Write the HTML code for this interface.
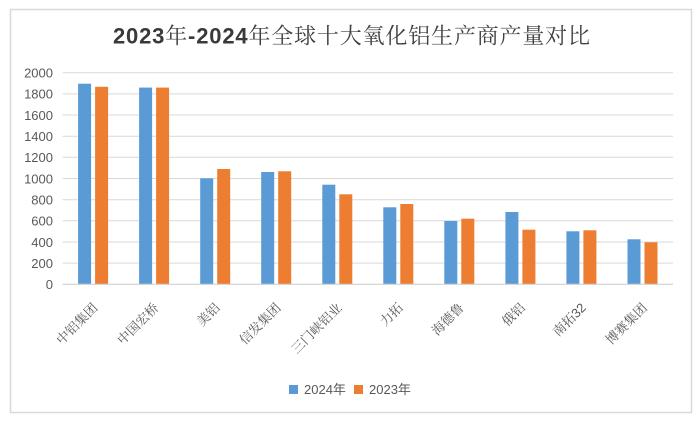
<!DOCTYPE html>
<html><head><meta charset="utf-8"><style>
html,body{margin:0;padding:0;background:#fff;}
svg{display:block;}
.t-num{font-family:"Liberation Sans",sans-serif;font-weight:bold;fill:#3a3a3a;}
.t-cjk{font-family:"Noto Serif CJK SC","Noto Serif CJK TC",serif;font-weight:normal;fill:#404040;}
.lab{font-family:"Liberation Sans","Noto Serif CJK SC",serif;font-size:13px;fill:#595959;}
.tick{font-family:"Liberation Sans",sans-serif;font-size:13px;fill:#595959;}
.leg{font-family:"Liberation Sans","Noto Sans CJK SC",sans-serif;font-size:13px;fill:#595959;}
</style></head><body>
<svg width="700" height="424" viewBox="0 0 700 424" xmlns="http://www.w3.org/2000/svg">
<rect x="0" y="0" width="700" height="424" fill="#fff"/>
<rect x="10.5" y="9.5" width="681" height="403" fill="#fff" stroke="#d9d9d9" stroke-width="1.5"/>
<text x="113" y="43.5" textLength="477" lengthAdjust="spacing" style="font-size:22px"><tspan class="t-num">2023</tspan><tspan class="t-cjk">年</tspan><tspan class="t-num">-2024</tspan><tspan class="t-cjk">年全球十大氧化铝生产商产量对比</tspan></text>
<g stroke="#d9d9d9" stroke-width="1">
<line x1="62.6" x2="673" y1="72.7" y2="72.7"/>
<line x1="62.6" x2="673" y1="93.9" y2="93.9"/>
<line x1="62.6" x2="673" y1="115.0" y2="115.0"/>
<line x1="62.6" x2="673" y1="136.2" y2="136.2"/>
<line x1="62.6" x2="673" y1="157.3" y2="157.3"/>
<line x1="62.6" x2="673" y1="178.5" y2="178.5"/>
<line x1="62.6" x2="673" y1="199.7" y2="199.7"/>
<line x1="62.6" x2="673" y1="220.8" y2="220.8"/>
<line x1="62.6" x2="673" y1="242.0" y2="242.0"/>
<line x1="62.6" x2="673" y1="263.1" y2="263.1"/>
</g>
<g class="tick" text-anchor="end">
<text class="tick" x="53" y="77.5">2000</text>
<text class="tick" x="53" y="98.7">1800</text>
<text class="tick" x="53" y="119.8">1600</text>
<text class="tick" x="53" y="141">1400</text>
<text class="tick" x="53" y="162.1">1200</text>
<text class="tick" x="53" y="183.3">1000</text>
<text class="tick" x="53" y="204.5">800</text>
<text class="tick" x="53" y="225.6">600</text>
<text class="tick" x="53" y="246.8">400</text>
<text class="tick" x="53" y="267.9">200</text>
<text class="tick" x="53" y="289.1">0</text>
</g>
<g fill="#5B9BD5">
<rect x="78.1" y="83.7" width="13" height="200.6"/>
<rect x="139.1" y="87.6" width="13" height="196.7"/>
<rect x="200.2" y="178.3" width="13" height="106"/>
<rect x="261.2" y="172.0" width="13" height="112.3"/>
<rect x="322.3" y="184.7" width="13" height="99.6"/>
<rect x="383.3" y="207.3" width="13" height="77"/>
<rect x="444.3" y="221.0" width="13" height="63.3"/>
<rect x="505.4" y="212.0" width="13" height="72.3"/>
<rect x="566.4" y="231.3" width="13" height="53"/>
<rect x="627.5" y="239.3" width="13" height="45"/>
</g>
<g fill="#ED7D31">
<rect x="95.1" y="86.8" width="13" height="197.5"/>
<rect x="156.1" y="87.6" width="13" height="196.7"/>
<rect x="217.2" y="169.0" width="13" height="115.3"/>
<rect x="278.2" y="171.3" width="13" height="113"/>
<rect x="339.3" y="194.3" width="13" height="90"/>
<rect x="400.3" y="204.0" width="13" height="80.3"/>
<rect x="461.3" y="218.7" width="13" height="65.6"/>
<rect x="522.4" y="229.7" width="13" height="54.6"/>
<rect x="583.4" y="230.3" width="13" height="54"/>
<rect x="644.5" y="242.3" width="13" height="42"/>
</g>
<line x1="62.6" x2="673" y1="284.3" y2="284.3" stroke="#d0d0d0" stroke-width="1.2"/>
<g text-anchor="end">
<text class="lab" transform="translate(98.5,308.5) rotate(-45)">中铝集团</text>
<text class="lab" transform="translate(159.5,308.5) rotate(-45)">中国宏桥</text>
<text class="lab" transform="translate(220.6,308.5) rotate(-45)">美铝</text>
<text class="lab" transform="translate(281.6,308.5) rotate(-45)">信发集团</text>
<text class="lab" transform="translate(342.7,308.5) rotate(-45)">三门峡铝业</text>
<text class="lab" transform="translate(403.7,308.5) rotate(-45)">力拓</text>
<text class="lab" transform="translate(464.7,308.5) rotate(-45)">海德鲁</text>
<text class="lab" transform="translate(525.8,308.5) rotate(-45)">俄铝</text>
<text class="lab" transform="translate(586.8,308.5) rotate(-45)">南拓32</text>
<text class="lab" transform="translate(647.9,308.5) rotate(-45)">博赛集团</text>
</g>
<rect x="289" y="385" width="9" height="9" fill="#5B9BD5"/>
<rect x="354" y="385" width="9" height="9" fill="#ED7D31"/>
<text class="leg" x="304" y="394">2024年</text>
<text class="leg" x="369" y="394">2023年</text>
</svg>
</body></html>
